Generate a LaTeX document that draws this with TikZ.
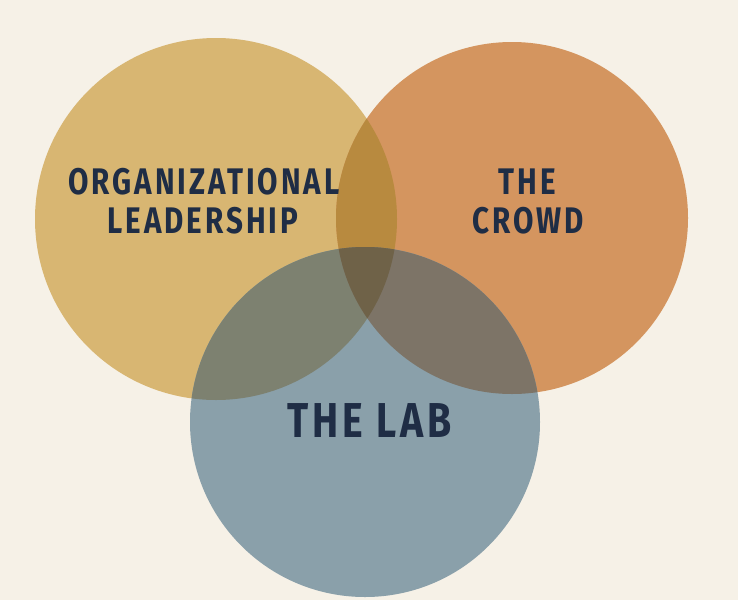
\documentclass[tikz,border=0pt]{standalone}
\usepackage{fontspec}
\setmainfont{Fira Sans}
\newfontfamily\vennfont[FakeStretch=0.8,LetterSpace=8]{Fira Sans}
\definecolor{paper}{HTML}{F6F1E7}
\definecolor{gold}{HTML}{D8B672}
\definecolor{rust}{HTML}{D4955F}
\definecolor{slate}{HTML}{8AA0AA}
\definecolor{goldrust}{HTML}{B88A3F}
\definecolor{goldslate}{HTML}{7D8170}
\definecolor{rustslate}{HTML}{7D7467}
\definecolor{allthree}{HTML}{6F6248}
\definecolor{ink}{HTML}{1F2D45}
\tikzset{
  lbl/.style={text=ink, anchor=base, inner sep=0pt, font=\vennfont\bfseries\fontsize{37}{40}\selectfont},
  biglbl/.style={lbl, font=\vennfont\bfseries\fontsize{49}{52}\selectfont}
}
\begin{document}
\begin{tikzpicture}[x=1pt,y=-1pt]
  \useasboundingbox (0,0) rectangle (738,600);
  \fill[paper] (0,0) rectangle (738,600);
  \coordinate (L) at (216,219);
  \coordinate (R) at (512,218);
  \coordinate (B) at (365,422);
  % single circles
  \fill[gold] (L) circle (181pt);
  \fill[rust] (R) circle (176pt);
  \fill[slate] (B) circle (175pt);
  % overlaps
  \begin{scope}
    \clip (L) circle (181pt);
    \fill[goldrust] (R) circle (176pt);
    \fill[goldslate] (B) circle (175pt);
  \end{scope}
  \begin{scope}
    \clip (R) circle (176pt);
    \fill[rustslate] (B) circle (175pt);
    \clip (L) circle (181pt);
    \fill[allthree] (B) circle (175pt);
  \end{scope}
  % labels
  \node[lbl] (org) at (204,194) {ORGANIZATIONAL};
  \node[lbl] (lead) at (203,233) {LEADERSHIP};
  \node[lbl] (the) at (527,194) {THE};
  \node[lbl] (crowd) at (528,233) {CROWD};
  \node[biglbl] (lab) at (370,437) {THE LAB};
\end{tikzpicture}
\end{document}
